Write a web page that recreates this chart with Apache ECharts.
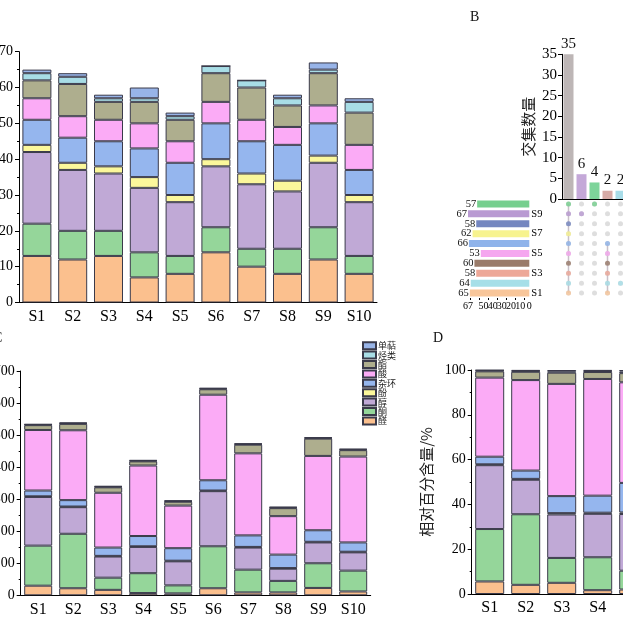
<!DOCTYPE html>
<html><head><meta charset="utf-8">
<script src="https://cdn.jsdelivr.net/npm/echarts@6/dist/echarts.min.js"></script>
<style>html,body{margin:0;padding:0;background:#fff;}#c{width:623px;height:623px;}</style>
</head><body><div id="c"></div>
<script>
// ---------- data ----------
const samples = ['S1','S2','S3','S4','S5','S6','S7','S8','S9','S10'];
const groups = ['醛','酮','醇','酚','杂环','酸','酯','烃类','单萜'];
// Panel A: number of compounds per class (rows follow `groups`)
const countsA = [
  [13,12,13,7,8,14,10,8,12,8],
  [9,8,7,7,5,7,5,7,9,5],
  [20,17,16,18,15,17,18,16,18,15],
  [2,2,2,3,2,2,3,3,2,2],
  [7,7,7,8,9,10,9,10,9,7],
  [6,6,6,7,6,6,6,5,5,7],
  [5,9,5,6,6,8,9,6,9,9],
  [2,2,1,1,1,2,2,2,1,3],
  [1,1,1,3,1,0,0,1,2,1]
];
// Panel B: set sizes and intersections
const setSizes = [65,64,58,60,53,66,62,58,67,57];
const interNames = ['I1','I2','I3','I4','I5'];
const interSizes = [35,6,4,2,2];
const interMembers = [
  ['S1','S2','S3','S4','S5','S6','S7','S8','S9','S10'],
  ['S9'],
  ['S10'],
  ['S1','S2','S3','S4','S5','S6'],
  ['S2']
];
// Panel C: content per class
const contentC = [
  [30,22,17,7,6,22,9,9,23,12],
  [125,170,38,62,25,131,71,36,77,65],
  [152,83,66,82,75,172,69,38,65,57],
  [2,2,2,2,2,2,2,2,2,2],
  [18,20,26,32,39,32,36,42,36,29],
  [189,218,171,220,133,267,256,120,232,268],
  [15,20,17,13,12,17,27,25,54,20],
  [2,2,2,2,2,2,2,2,2,2],
  [1,2,2,2,2,2,2,2,2,2]
];
// Panel D: relative percentage per class
const percentD = [
  [5.6,4.1,5.0,1.7,2.0,3.4,1.9,3.3,4.7,2.6],
  [23.4,31.5,11.1,14.7,8.4,20.2,15.0,13.0,15.6,14.2],
  [28.5,15.4,19.4,19.4,25.3,26.6,14.6,13.8,13.2,12.5],
  [0.4,0.4,0.6,0.5,0.7,0.3,0.4,0.7,0.4,0.4],
  [3.4,3.7,7.6,7.6,13.2,4.9,7.6,15.2,7.3,6.3],
  [35.3,40.4,50.1,52.1,44.9,41.3,54.0,43.5,47.1,58.6],
  [2.8,3.7,5.0,3.1,4.1,2.6,5.7,9.1,11.0,4.4],
  [0.4,0.4,0.6,0.5,0.7,0.3,0.4,0.7,0.4,0.4],
  [0.2,0.4,0.6,0.4,0.7,0.4,0.4,0.7,0.3,0.6]
];
const groupColors = ['#fbc08e','#95d69a','#c0a9d6','#fbf79b','#95b6ee','#fbabf6','#aeae8e','#a8dde6','#98b4e8'];
const setColors = ['#f8c69a','#a6dfe8','#eda898','#9a7b6a','#f5a6ef','#8fb3ea','#f7f38e','#7486c0','#b99ad2','#76cf8e'];
const interColors = ['#bdb6b6','#c4a8d8','#7dd49a','#d6aaa6','#a8dce8'];

// ---------- chart ----------
const SERIF = "'Liberation Serif','Times New Roman',serif";
const CJK = "'Noto Sans CJK SC',sans-serif";
const chart = echarts.init(document.getElementById('c'));
const black = {lineStyle:{color:'#000',width:1}};
const border = '#3a3a4a';

function stackSeries(arr, stack, xi, yi, bw){
  return groups.map((g,k)=>({
    type:'bar', name:g, stack:stack, xAxisIndex:xi, yAxisIndex:yi, barWidth:bw,
    data:arr[k], itemStyle:{color:groupColors[k], borderColor:border, borderWidth:1}
  }));
}
function catAxis(gi, fs){
  return {type:'category', gridIndex:gi, data:samples, axisLine:black,
    axisTick:{alignWithLabel:true, length:4, lineStyle:{color:'#000'}},
    axisLabel:{color:'#000', fontFamily:SERIF, fontSize:fs, margin:6}};
}
function valAxis(gi, max, interval, extra){
  return Object.assign({type:'value', gridIndex:gi, min:0, max:max, interval:interval,
    axisLine:{show:true, lineStyle:{color:'#000'}},
    axisTick:{show:true, length:4, lineStyle:{color:'#000'}},
    minorTick:{show:true, splitNumber:2, length:2, lineStyle:{color:'#000'}},
    splitLine:{show:false},
    axisLabel:{color:'#000', fontFamily:SERIF, fontSize:14, margin:6}}, extra||{});
}
function grid(l,t,w,h){ return {left:l, top:t, width:w, height:h, outerBoundsMode:'none', containLabel:false}; }

// matrix points
const bgDots = [], memDots = [], linkSeries = [];
interNames.forEach((n,i)=>{
  samples.forEach((s,j)=>{ bgDots.push([i,j]); });
  const rows = interMembers[i].map(s=>samples.indexOf(s));
  rows.forEach(j=>memDots.push({value:[i,j], itemStyle:{color:setColors[j]}}));
  if(rows.length>1){
    linkSeries.push({type:'line', xAxisIndex:3, yAxisIndex:3, symbol:'none', silent:true,
      data:[[i,Math.min(...rows)],[i,Math.max(...rows)]], lineStyle:{color:'#c8c0c8', width:1.5}, z:2});
  }
});

const option = {
  animation:false,
  backgroundColor:'#fff',
  textStyle:{fontFamily:SERIF},
  legend:{
    data:groups.slice().reverse(), orient:'vertical', left:357, top:336,
    itemWidth:13, itemHeight:7, itemGap:0, icon:'rect',
    textStyle:{fontFamily:CJK, fontSize:9, lineHeight:9.4, color:'#222', padding:[0,0,0,-3]}
  },
  grid:[
    grid(19,51.7,358,250.8),
    grid(562,54.3,65,144.7),
    grid(468,199,61.3,99),
    grid(562,199,65,99),
    grid(20.7,371,350,224.3),
    grid(471.7,370,360,224)
  ],
  xAxis:[
    catAxis(0,16),
    {type:'category', gridIndex:1, data:interNames, axisLine:black, axisTick:{show:false}, axisLabel:{show:false}},
    {type:'value', gridIndex:2, inverse:true, min:0, max:67, interval:10,
      axisLine:black, axisTick:{length:3, lineStyle:{color:'#000'}},
      minorTick:{show:true, splitNumber:2, length:2, lineStyle:{color:'#000'}},
      splitLine:{show:false}, axisLabel:{color:'#000', fontFamily:SERIF, fontSize:10, margin:3, showMaxLabel:true, hideOverlap:false}},
    {type:'category', gridIndex:3, data:interNames, show:false},
    catAxis(4,16),
    catAxis(5,16)
  ],
  yAxis:[
    valAxis(0,70,10),
    valAxis(1,35,5,{minorTick:{show:false}, axisLabel:{color:'#000', fontFamily:SERIF, fontSize:15, margin:5},
      name:'交集数量', nameLocation:'middle', nameGap:26, nameRotate:90,
      nameTextStyle:{fontFamily:CJK, fontSize:15, color:'#222'}}),
    {type:'category', gridIndex:2, data:samples, position:'right', axisLine:{show:false}, axisTick:{show:false},
      axisLabel:{color:'#000', fontFamily:SERIF, fontSize:10.5, margin:2}},
    {type:'category', gridIndex:3, data:samples, show:false},
    valAxis(4,700,100),
    valAxis(5,100,20,{name:'相对百分含量/%', nameLocation:'middle', nameGap:36, nameRotate:90,
      nameTextStyle:{fontFamily:CJK, fontSize:15, color:'#222'}})
  ],
  series:[].concat(
    stackSeries(countsA,'a',0,0,29),
    [{type:'bar', xAxisIndex:1, yAxisIndex:1, barWidth:10,
      data:interSizes.map((v,i)=>({value:v, itemStyle:{color:interColors[i]}})),
      label:{show:true, position:'top', fontFamily:SERIF, fontSize:15, color:'#111', distance:3}},
     {type:'bar', xAxisIndex:2, yAxisIndex:2, barWidth:7,
      data:setSizes.map((v,i)=>({value:v, itemStyle:{color:setColors[i]}})),
      label:{show:true, position:'left', fontFamily:SERIF, fontSize:10.5, color:'#111', distance:1}},
     {type:'scatter', xAxisIndex:3, yAxisIndex:3, symbolSize:5, data:bgDots, itemStyle:{color:'#d6d6d6'}, z:1},
     {type:'scatter', xAxisIndex:3, yAxisIndex:3, symbolSize:5, data:memDots, z:3}],
    linkSeries,
    stackSeries(contentC,'c',4,4,28),
    stackSeries(percentD,'d',5,5,29)
  ),
  graphic:[
    {type:'text', left:470, top:10, style:{text:'B', font:"14px 'Liberation Serif',serif", fill:'#111'}},
    {type:'text', left:-7, top:331, style:{text:'C', font:"14px 'Liberation Serif',serif", fill:'#111'}},
    {type:'text', left:433, top:331, style:{text:'D', font:"14px 'Liberation Serif',serif", fill:'#111'}}
  ]
};
chart.setOption(option);
</script>
</body></html>
